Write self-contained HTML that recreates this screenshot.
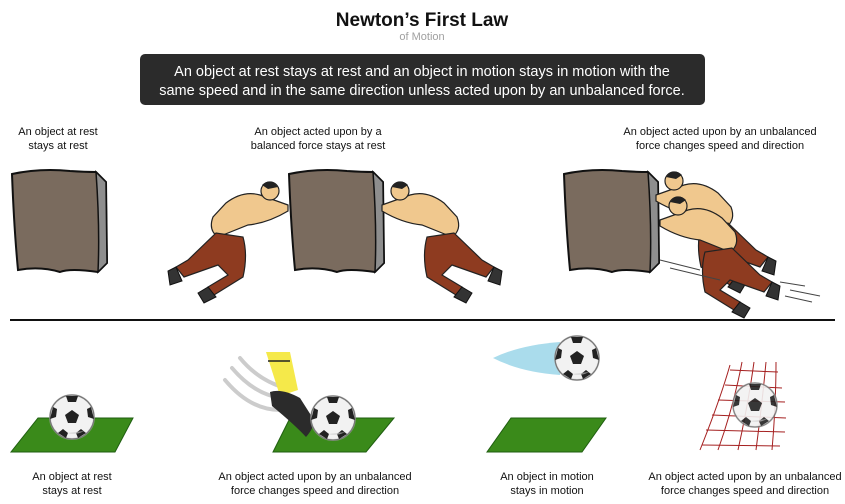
<!DOCTYPE html>
<html><head><meta charset="utf-8"><style>
html,body{margin:0;padding:0;background:#fff}
svg{display:block}
text{font-family:"Liberation Sans",Arial,sans-serif}
</style></head><body>
<svg width="845" height="504" viewBox="0 0 845 504" xmlns="http://www.w3.org/2000/svg">
<defs>
<g id="ball">
<circle r="22" fill="#f2f2f2" stroke="#333" stroke-width="1.2"/>
<circle r="22" fill="none" stroke="#bbb" stroke-width="2" opacity=".5"/>
<polygon points="0,-7 7,-2 4,6 -4,6 -7,-2" fill="#222"/>
<path d="M-6,-21 L6,-21 L4,-15 L-4,-15Z M19,-10 L22,2 L16,0 L15,-8Z M-19,-10 L-22,2 L-16,0 L-15,-8Z M-14,16 L-6,21 L-4,16 L-9,12Z M14,16 L6,21 L4,16 L9,12Z" fill="#222"/>
<path d="M-5,16 a22 22 0 0 0 17,-2" fill="#ccc" opacity=".6"/>
</g>
<g id="block">
<path d="M2,6 Q30,0 60,3 Q75,4 86,4 L96,14 L97,95 L88,104 Q60,100 50,104 Q30,98 8,102 Q4,60 2,6Z" fill="#7a6b5e" stroke="#111" stroke-width="2"/>
<path d="M86,4 L96,14 L97,95 L88,104 Q90,60 86,4Z" fill="#8e8e8e" stroke="#111" stroke-width="1.5"/>
</g>
<g id="manR">
<!-- man facing right, pushing; origin at hands -->
<path d="M0,0 L-28,-10 Q-45,-15 -62,-2 L-75,12 Q-80,25 -70,32 L-40,20 Q-20,18 0,6Z" fill="#f0c88e" stroke="#222" stroke-width="1.2"/>
<circle cx="-18" cy="-14" r="9" fill="#f0c88e" stroke="#222" stroke-width="1.2"/>
<path d="M-26,-20 Q-18,-28 -10,-18 L-20,-16Z" fill="#222"/>
<path d="M-72,28 L-100,55 L-112,62 L-104,72 L-70,60 L-60,70 L-80,82 L-74,90 L-45,72 Q-40,50 -45,32Z" fill="#8e3b20" stroke="#222" stroke-width="1.2"/>
<path d="M-112,62 L-120,66 L-118,80 L-106,76Z M-80,82 L-90,88 L-84,98 L-72,92Z" fill="#333" stroke="#111"/>
</g>
</defs>

<text x="422" y="26" font-size="19" font-weight="bold" text-anchor="middle" fill="#111">Newton’s First Law</text>
<text x="422" y="40" font-size="11" text-anchor="middle" fill="#a0a0a0">of Motion</text>
<rect x="140" y="54" width="565" height="51" rx="5" fill="#2b2b2b"/>
<text x="422" y="76" font-size="14.5" text-anchor="middle" fill="#fff">An object at rest stays at rest and an object in motion stays in motion with the</text>
<text x="422" y="95" font-size="14.5" text-anchor="middle" fill="#fff">same speed and in the same direction unless acted upon by an unbalanced force.</text>

<g font-size="11" text-anchor="middle" fill="#111">
<text x="58" y="135">An object at rest</text><text x="58" y="149">stays at rest</text>
<text x="318" y="135">An object acted upon by a</text><text x="318" y="149">balanced force stays at rest</text>
<text x="720" y="135">An object acted upon by an unbalanced</text><text x="720" y="149">force changes speed and direction</text>
</g>

<use href="#block" x="10" y="168"/>
<use href="#block" x="287" y="168"/>
<use href="#block" x="562" y="168"/>
<use href="#manR" x="288" y="205"/>
<use href="#manR" transform="translate(382,205) scale(-1,1)"/>
<g transform="translate(752,215) scale(-1,1)"><use href="#manR" x="96" y="-20"/></g>
<g transform="translate(770,230) scale(-1,1)"><use href="#manR" x="110" y="-10"/></g>
<g stroke="#444" stroke-width="1"><path d="M660,260 L700,270 M670,268 L720,280 M780,282 L805,286 M790,290 L820,296 M785,296 L812,302"/></g>

<line x1="10" y1="320" x2="835" y2="320" stroke="#111" stroke-width="2"/>

<g fill="#3a8a1a" stroke="#1f5e10" stroke-width="1">
<polygon points="38,418 133,418 115,452 11,452"/>
<polygon points="290,418 394,418 366,452 273,452"/>
<polygon points="511,418 606,418 582,452 487,452"/>
</g>
<use href="#ball" x="72" y="417"/>
<g fill="none" stroke="#ccc" stroke-width="4" stroke-linecap="round">
<path d="M225,380 Q250,410 280,410"/><path d="M232,368 Q255,395 282,398"/><path d="M240,358 Q258,380 285,388"/>
</g>
<path d="M266,352 L290,352 L298,390 L280,396 Z" fill="#f5e94a"/>
<path d="M268,361 L290,361" stroke="#222" stroke-width="1.5"/>
<path d="M270,392 Q282,388 300,398 L314,420 Q314,428 306,437 Q295,425 272,406 Z" fill="#2b2b2b"/>
<use href="#ball" x="333" y="418"/>
<path d="M493,358 Q520,345 560,342 L560,375 Q520,372 493,358Z" fill="#aadcec"/>
<use href="#ball" x="577" y="358"/>
<g stroke="#a52020" stroke-width="1" fill="none">
<path d="M730,365 Q720,400 700,450 M742,362 Q734,405 718,450 M754,362 Q748,405 738,450 M766,362 Q762,405 756,450 M776,362 Q776,405 772,450"/>
<path d="M730,370 L778,372 M725,385 L782,388 M718,400 L785,402 M712,415 L786,418 M706,430 L785,432 M702,445 L780,446"/>
</g>
<use href="#ball" x="755" y="405" opacity=".9"/>

<g font-size="11" text-anchor="middle" fill="#111">
<text x="72" y="480">An object at rest</text><text x="72" y="494">stays at rest</text>
<text x="315" y="480">An object acted upon by an unbalanced</text><text x="315" y="494">force changes speed and direction</text>
<text x="547" y="480">An object in motion</text><text x="547" y="494">stays in motion</text>
<text x="745" y="480">An object acted upon by an unbalanced</text><text x="745" y="494">force changes speed and direction</text>
</g>
</svg>
</body></html>
